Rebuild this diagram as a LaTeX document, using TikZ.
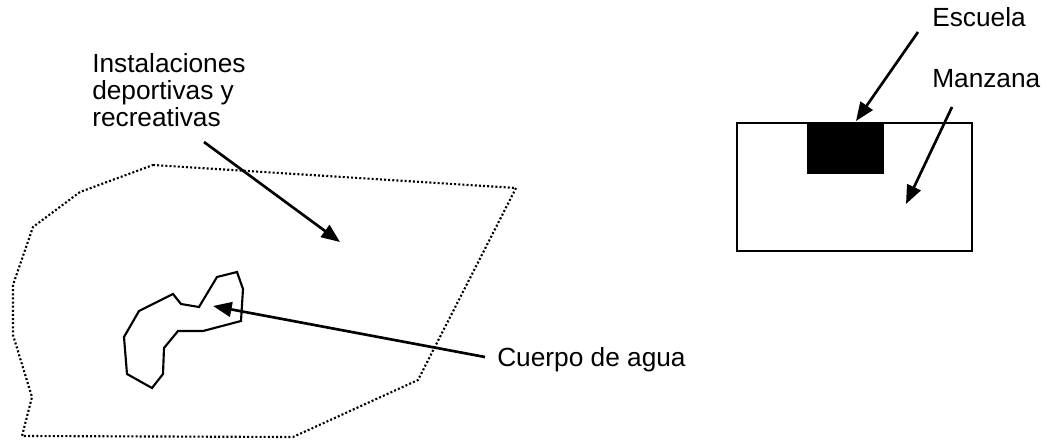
\documentclass[tikz,border=0pt]{standalone}
\usepackage{fontspec}
\setmainfont{Liberation Sans}
\usetikzlibrary{arrows.meta}

\tikzset{
  tag/.style={inner sep=0pt, anchor=base west, align=left,
    font=\fontsize{19.7}{20.3}\selectfont},
  pointer/.style={line width=2pt, -{Triangle[length=14pt,width=11pt]}},
  zone/.style={line width=1.6pt, dash pattern=on 1.5pt off 1.6pt},
  outline/.style={line width=1.6pt, line join=miter},
}

\begin{document}
\begin{tikzpicture}[x=0.75pt,y=-0.75pt]
  %%%%% START %%%%%
  \useasboundingbox (0,0) rectangle (1047,442);

  % area deportiva (linea punteada)
  \draw[zone] (153,165) -- (516,188) -- (418,380) -- (293,437) -- (22,436)
    -- (32,397) -- (13,335) -- (13,285) -- (33,227) -- (80,192) -- cycle;

  % cuerpo de agua
  \draw[outline] (237,272) -- (243,289) -- (241,321) -- (203,331) -- (178,331)
    -- (164,348) -- (163,374) -- (152,388) -- (127,374) -- (124,337)
    -- (139,311) -- (173,294) -- (181,304) -- (199,307) -- (217,277) -- cycle;

  % manzana y escuela
  \draw[outline] (737,123) rectangle (972,251);
  \fill[black] (807,123) rectangle (884,174);

  % textos (base = ultima linea)
  \node[tag] (instal) at (92,127) {Instalaciones\\deportivas y\\recreativas};
  \node[tag] (agua) at (497,366) {Cuerpo de agua};
  \node[tag] (escuela) at (932,27) {Escuela};
  \node[tag] (manzana) at (932,88) {Manzana};

  % puntos de las flechas
  \coordinate (instal-from) at (204,142);
  \coordinate (instal-to) at (340,242);
  \coordinate (agua-from) at (485,357);
  \coordinate (agua-to) at (213,306);
  \coordinate (escuela-from) at (918,32);
  \coordinate (escuela-to) at (856,121);
  \coordinate (manzana-from) at (952,107);
  \coordinate (manzana-to) at (906,204);

  \draw[pointer] (instal-from) -- (instal-to);
  \draw[pointer] (agua-from) -- (agua-to);
  \draw[pointer] (escuela-from) -- (escuela-to);
  \draw[pointer] (manzana-from) -- (manzana-to);
  %%%%% END %%%%%
\end{tikzpicture}
\end{document}
